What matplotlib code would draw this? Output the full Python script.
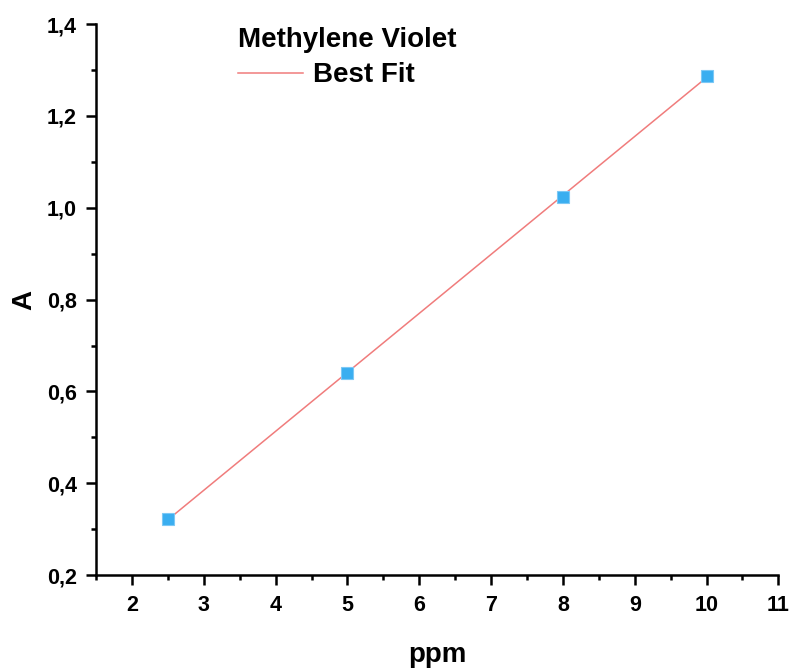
import matplotlib.pyplot as plt
import numpy as np
from matplotlib.ticker import MultipleLocator, FuncFormatter

plt.rcParams['font.family'] = ['Liberation Sans', 'DejaVu Sans']
plt.rcParams['font.weight'] = 'bold'

# Datos
ppm = np.array([2.5, 5, 8, 10])
absorbance = np.array([0.323, 0.640, 1.023, 1.287])

# Ajuste lineal
m, b = np.polyfit(ppm, absorbance, 1)
x_fit = np.array([ppm.min(), ppm.max()])
y_fit = m * x_fit + b

fig = plt.figure(figsize=(7.95, 6.68), dpi=100)
ax = fig.add_axes([0.121, 0.139, 0.858, 0.825])

ax.plot(ppm, absorbance, 's', color='#3aaef0', markeredgecolor='#7cc8f5',
        markeredgewidth=0.8, markersize=8.5, zorder=3)
fit_line, = ax.plot(x_fit, y_fit, '-', color='#f07c7c', lw=1.1, label='Best Fit', zorder=2)

ax.set_xlim(1.5, 11)
ax.set_ylim(0.2, 1.4)
ax.xaxis.set_major_locator(MultipleLocator(1))
ax.xaxis.set_minor_locator(MultipleLocator(0.5))
ax.yaxis.set_major_locator(MultipleLocator(0.2))
ax.yaxis.set_minor_locator(MultipleLocator(0.1))
ax.xaxis.set_major_formatter(FuncFormatter(lambda v, p: f'{v:.0f}'))
ax.yaxis.set_major_formatter(FuncFormatter(lambda v, p: f'{v:.1f}'.replace('.', ',')))

for s in ['top', 'right']:
    ax.spines[s].set_visible(False)
for s in ['left', 'bottom']:
    ax.spines[s].set_linewidth(1.8)

ax.tick_params(which='major', direction='out', length=7, width=1.8, labelsize=15.5, pad=7)
ax.tick_params(which='minor', direction='out', length=3.5, width=1.8)

ax.set_xlabel('ppm', fontsize=20, fontweight='bold', labelpad=19)
ax.set_ylabel('A', fontsize=20, fontweight='bold', labelpad=7)

leg = ax.legend(handles=[fit_line], loc='upper left', bbox_to_anchor=(0.208, 0.994),
                frameon=False, title='Methylene Violet', alignment='left',
                prop={'size': 20, 'weight': 'bold'}, handlelength=2.35, handletextpad=0.33,
                borderaxespad=0, borderpad=0, labelspacing=0.32)
leg.get_title().set_fontsize(20)
leg.get_title().set_fontweight('bold')

plt.savefig('out.png', dpi=100)
